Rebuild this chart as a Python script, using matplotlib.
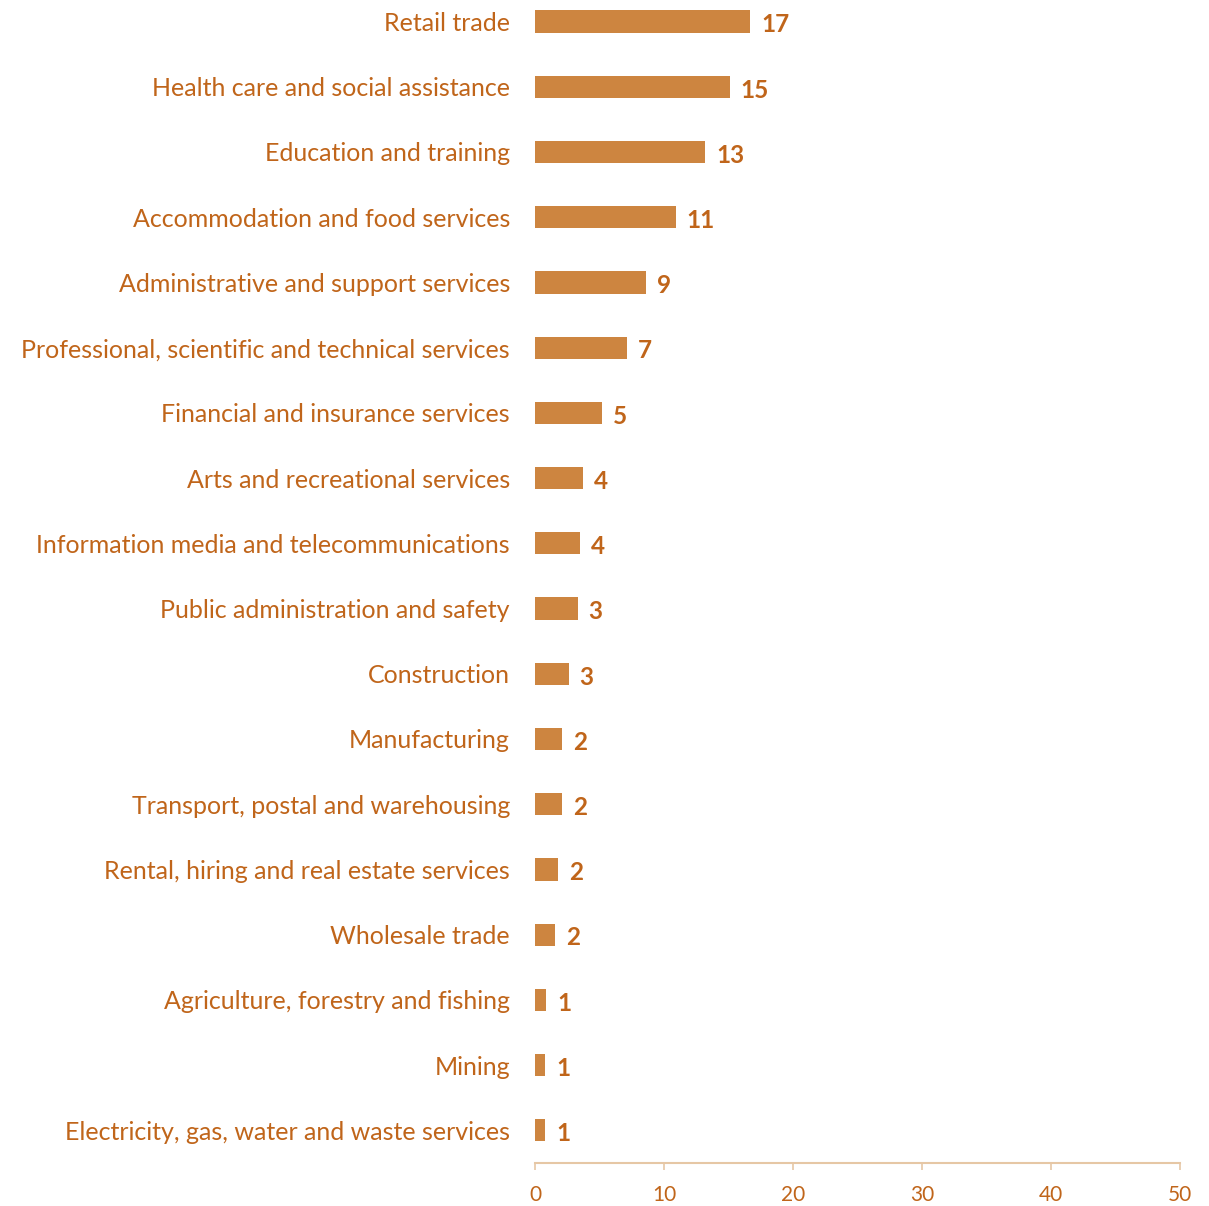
import numpy as np
import matplotlib.pyplot as plt

plt.rcParams['font.family'] = ['Lato', 'DejaVu Sans']

# Industries (top to bottom) and their shares
industries = [
    'Retail trade',
    'Health care and social assistance',
    'Education and training',
    'Accommodation and food services',
    'Administrative and support services',
    'Professional, scientific and technical services',
    'Financial and insurance services',
    'Arts and recreational services',
    'Information media and telecommunications',
    'Public administration and safety',
    'Construction',
    'Manufacturing',
    'Transport, postal and warehousing',
    'Rental, hiring and real estate services',
    'Wholesale trade',
    'Agriculture, forestry and fishing',
    'Mining',
    'Electricity, gas, water and waste services',
]
values = [16.7, 15.1, 13.2, 10.9, 8.6, 7.1, 5.2, 3.7, 3.5, 3.3,
          2.6, 2.1, 2.1, 1.8, 1.55, 0.85, 0.78, 0.78]
xticks = [0, 10, 20, 30, 40, 50]

bar_color = '#CD8540'
text_color = '#C0651A'
axis_color = '#E6C7A5'

fig = plt.figure(figsize=(12.09, 12.06), dpi=100)
ax = fig.add_axes([0.4425, 0.0357, 0.5335, 0.9735])

y = np.arange(len(industries))
bars = ax.barh(y, values, height=0.34, color=bar_color)

for rect, v in zip(bars, values):
    ax.text(rect.get_width() + 0.85, rect.get_y() + rect.get_height() / 2 + 0.05,
            f'{v:.0f}', va='center', ha='left', fontsize=17.5,
            fontweight='bold', color=text_color)

ax.set_ylim(len(industries) - 0.5, -0.5)
ax.set_xlim(0, 50)
ax.set_yticks(y)
ax.set_yticklabels(industries, fontsize=18, color=text_color)
ax.tick_params(axis='y', length=0, pad=18)
ax.set_xticks(xticks)
ax.tick_params(axis='x', colors=axis_color, labelcolor=text_color,
               labelsize=15, length=5, width=1.2, pad=11)

for s in ['top', 'right', 'left']:
    ax.spines[s].set_visible(False)
ax.spines['bottom'].set_color(axis_color)
ax.spines['bottom'].set_linewidth(1.5)

fig.savefig('out.png', dpi=100)
